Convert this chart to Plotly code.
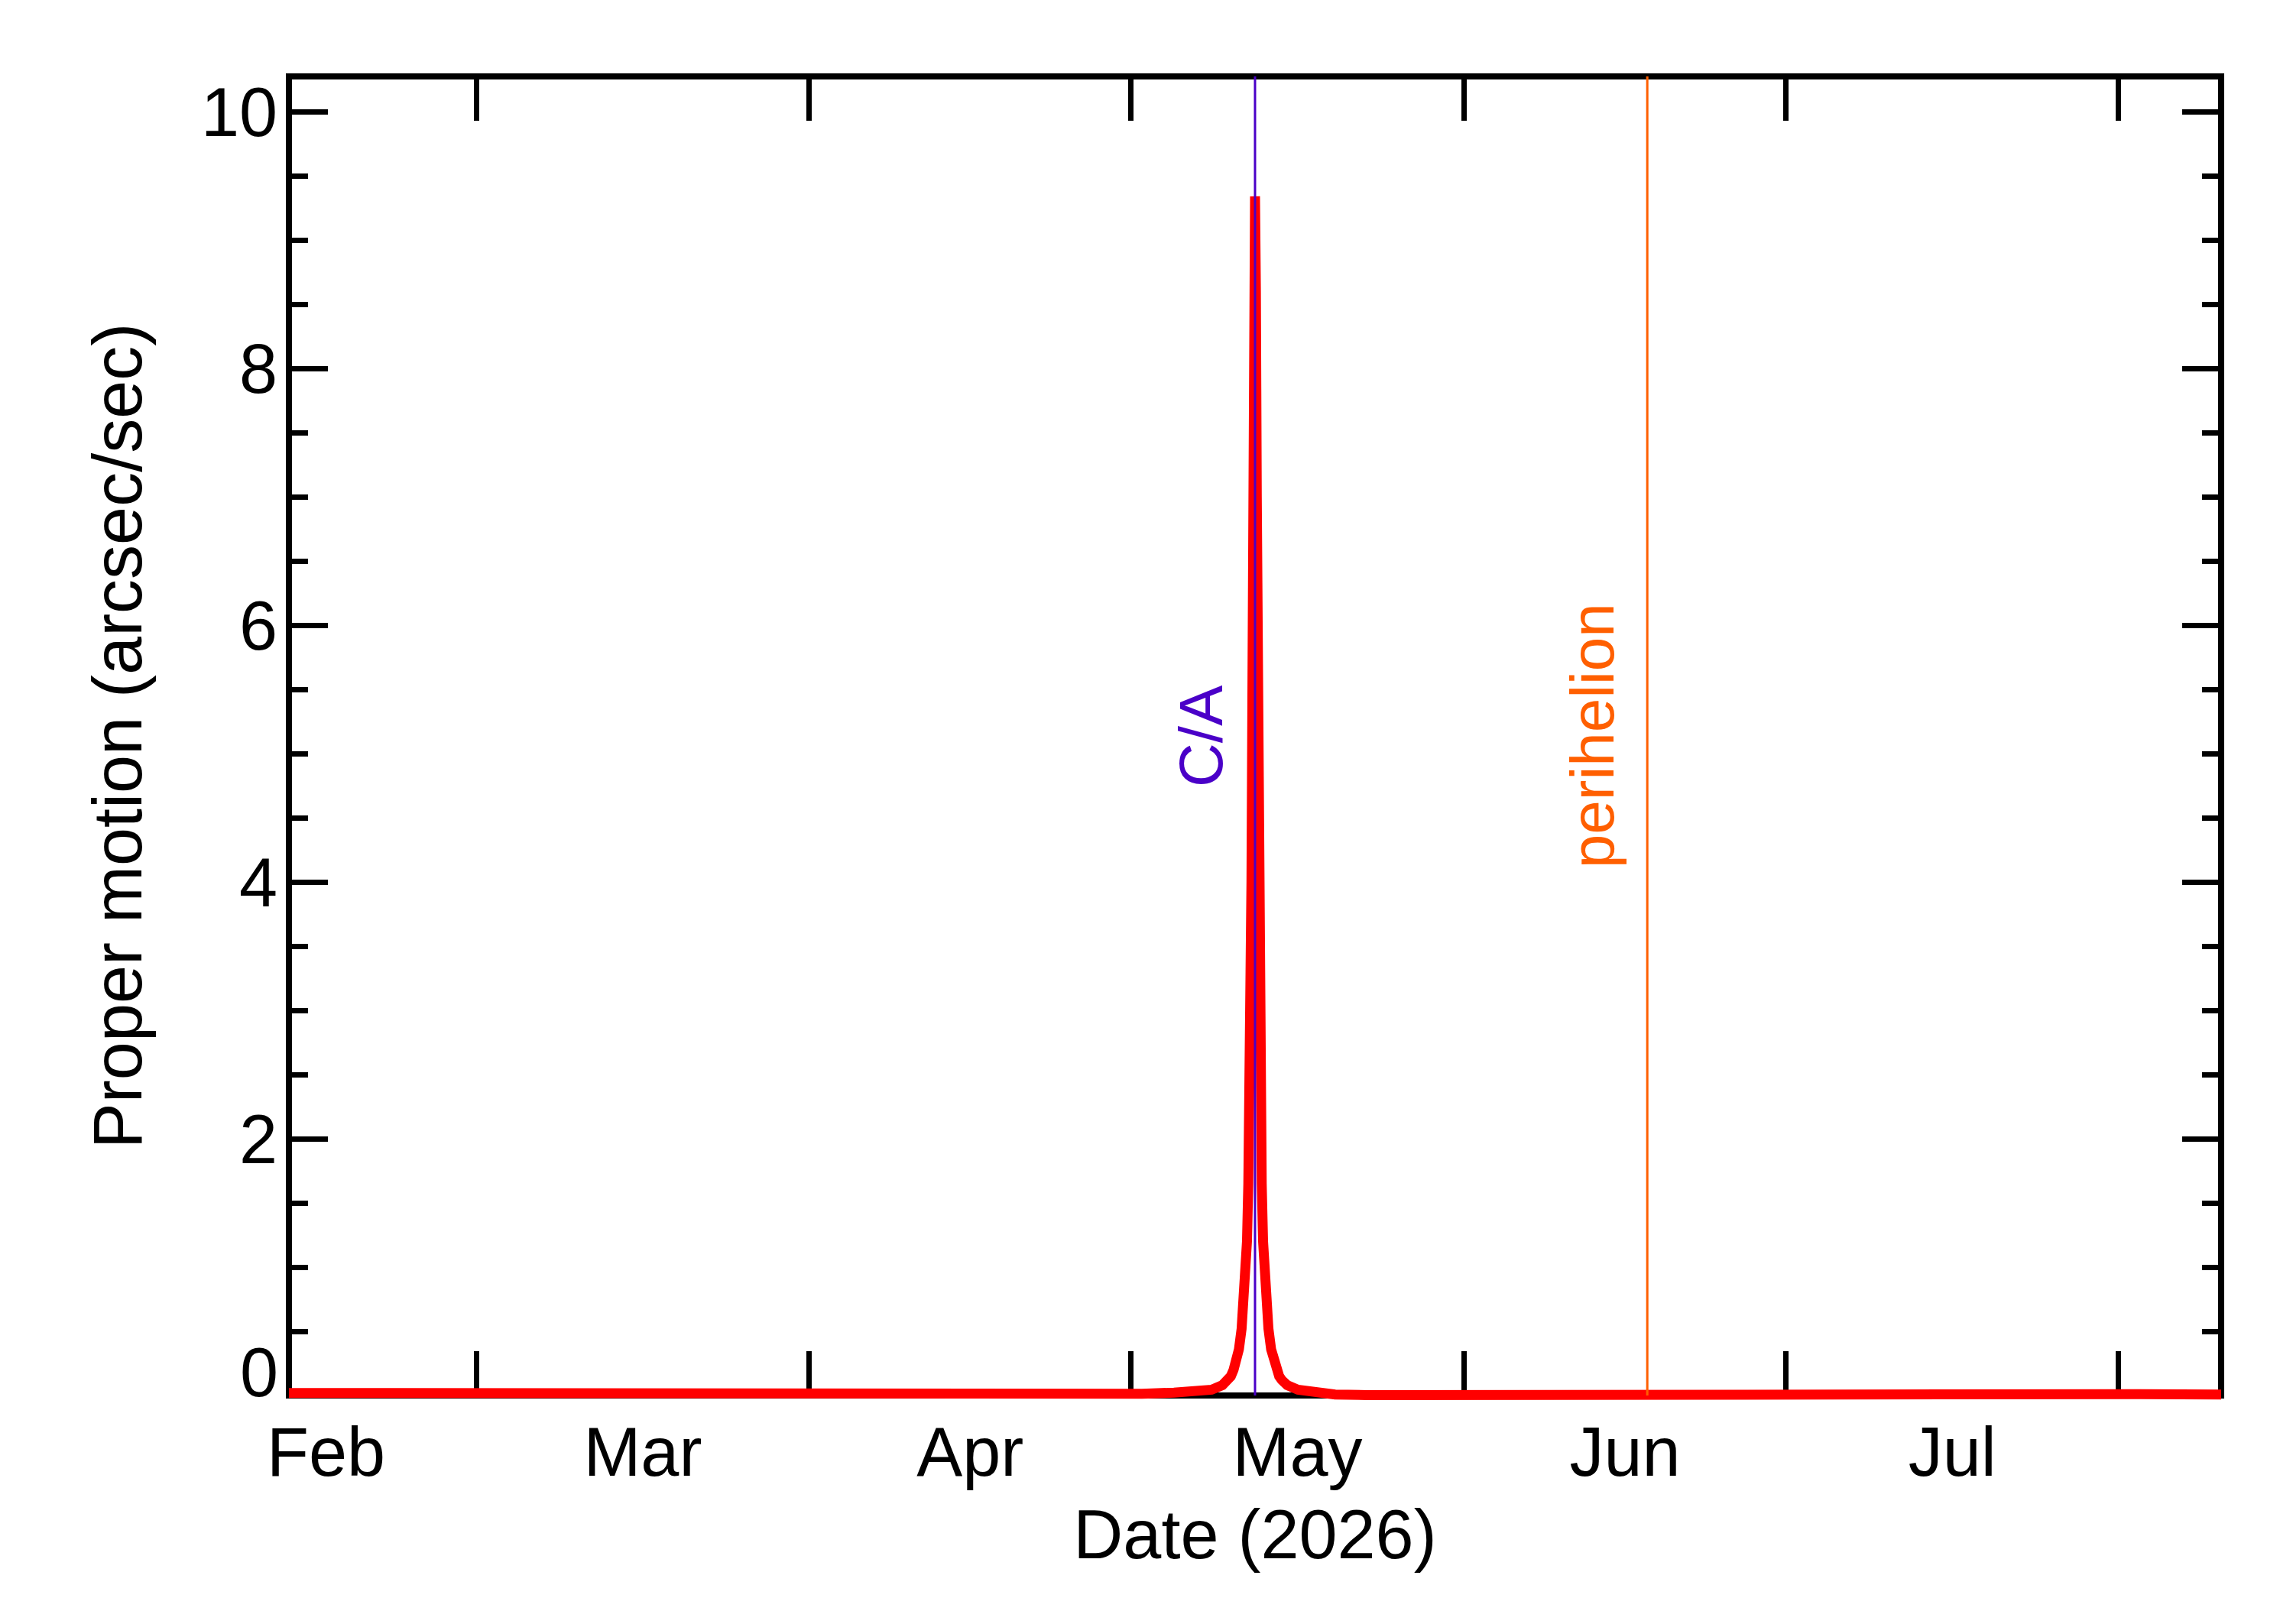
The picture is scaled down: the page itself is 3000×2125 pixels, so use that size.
import pandas as pd
import plotly.graph_objects as go

# proper motion (arcsec/sec)
dates = [
    "2026-02-11 13:00", "2026-02-18 00:00", "2026-02-25 00:00", "2026-03-04 00:00",
    "2026-03-12 00:00", "2026-03-20 00:00", "2026-03-28 00:00", "2026-04-06 00:00",
    "2026-04-15 00:00", "2026-04-22 00:00", "2026-04-28 00:00", "2026-05-02 00:00",
    "2026-05-05 00:00", "2026-05-07 12:00", "2026-05-08 12:00", "2026-05-09 12:00",
    "2026-05-10 01:00", "2026-05-10 07:00", "2026-05-10 13:00", "2026-05-10 19:00",
    "2026-05-11 01:00", "2026-05-11 07:00", "2026-05-11 13:00", "2026-05-11 16:00",
    "2026-05-11 19:00", "2026-05-11 22:00", "2026-05-12 01:00", "2026-05-12 03:00",
    "2026-05-12 05:00", "2026-05-12 07:00", "2026-05-12 09:00", "2026-05-12 11:00",
    "2026-05-12 12:00", "2026-05-12 13:00", "2026-05-12 14:00", "2026-05-12 15:00",
    "2026-05-12 17:00", "2026-05-12 19:00", "2026-05-12 21:00", "2026-05-12 23:00",
    "2026-05-13 01:00", "2026-05-13 04:00", "2026-05-13 07:00", "2026-05-13 10:00",
    "2026-05-13 13:00", "2026-05-13 19:00", "2026-05-14 01:00", "2026-05-14 07:00",
    "2026-05-14 13:00", "2026-05-14 19:00", "2026-05-15 01:00", "2026-05-15 13:00",
    "2026-05-16 13:00", "2026-05-18 00:00", "2026-05-20 00:00", "2026-05-23 00:00",
    "2026-05-27 00:00", "2026-06-02 00:00", "2026-06-09 00:00", "2026-06-16 00:00",
    "2026-06-24 00:00", "2026-07-03 00:00", "2026-07-12 00:00", "2026-07-19 00:00",
    "2026-07-26 00:00", "2026-08-03 00:00", "2026-08-10 13:00",
]
motion = [
    0.020, 0.019, 0.016, 0.013,
    0.011, 0.008, 0.005, 0.003,
    0.003, 0.005, 0.009, 0.014,
    0.022, 0.032, 0.045, 0.08,
    0.12, 0.15, 0.20, 0.26,
    0.36, 0.52, 0.77, 0.95,
    1.2, 1.65, 2.3, 3.1,
    4.0, 5.4, 7.0, 8.6,
    9.15, 9.34, 9.15, 8.6,
    7.0, 5.4, 4.0, 3.1,
    2.3, 1.65, 1.2, 0.95,
    0.77, 0.52, 0.36, 0.26,
    0.20, 0.15, 0.12, 0.08,
    0.045, 0.022, 0.008, 0.003,
    0.004, 0.007, 0.010, 0.013,
    0.017, 0.020, 0.020, 0.017,
    0.013, 0.010, 0.007,
]

ca_date = "2026-05-12 13:00"
peri_date = "2026-06-18 02:00"
t_start = "2026-02-11 13:00"
t_end = "2026-08-10 13:00"
y_max = 10.274

# page geometry (px)
W, H = 3000, 2125
XL, XR, YT, YB = 378, 2906, 100, 1826
LW = 8

T0, T1 = pd.Timestamp(t_start), pd.Timestamp(t_end)
spx = (T1 - T0) / (XR - XL)
ppu = (YB - YT) / y_max


def ts(t):
    return t.strftime("%Y-%m-%d %H:%M:%S.%f")


FONT = "Liberation Sans, Arial, Helvetica, sans-serif"
purple = "#4A00C8"
orange = "#FF5F00"

fig = go.Figure()

# curve and markers on a full-page overlay so the thick line is not clipped at the frame
fig.add_trace(go.Scatter(x=dates, y=motion, mode="lines", xaxis="x2", yaxis="y2",
                         line=dict(color="#FF0000", width=13), showlegend=False))
fig.add_trace(go.Scatter(x=[ca_date, ca_date], y=[0, y_max], mode="lines", xaxis="x2", yaxis="y2",
                         line=dict(color=purple, width=3), showlegend=False))
fig.add_trace(go.Scatter(x=[peri_date, peri_date], y=[0, y_max], mode="lines", xaxis="x2", yaxis="y2",
                         line=dict(color=orange, width=3), showlegend=False))

axis_common = dict(showline=True, linecolor="black", linewidth=LW, mirror="ticks",
                   ticks="inside", tickcolor="black", tickwidth=7,
                   showgrid=False, zeroline=False, automargin=False,
                   tickfont=dict(family=FONT, size=90, color="black"))

fig.update_layout(
    width=W, height=H,
    margin=dict(l=0, r=0, t=0, b=0, autoexpand=False),
    paper_bgcolor="white",
    plot_bgcolor="rgba(0,0,0,0)",
    showlegend=False,
    xaxis=dict(
        axis_common,
        type="date",
        domain=[(XL + LW / 2) / W, (XR - LW / 2) / W],
        range=[ts(T0 + spx * (LW / 2)), ts(T1 - spx * (LW / 2))],
        dtick="M1", tickformat="%b", ticklabelmode="period",
        ticklen=54, ticklabelstandoff=-7,
        title=dict(text="Date (2026)", font=dict(family=FONT, size=90, color="black"), standoff=30),
        anchor="y",
    ),
    yaxis=dict(
        axis_common,
        domain=[1 - (YB - LW / 2) / H, 1 - (YT + LW / 2) / H],
        range=[(LW / 2) / ppu, y_max - (LW / 2) / ppu],
        dtick=2, ticklen=47, ticklabelstandoff=-7,
        minor=dict(dtick=0.5, ticks="inside", ticklen=21, tickwidth=7, tickcolor="black"),
        title=dict(text="Proper motion (arcsec/sec)", font=dict(family=FONT, size=90, color="black"),
                   standoff=50),
        anchor="x",
    ),
    xaxis2=dict(type="date", domain=[0, 1], anchor="y2", visible=False,
                range=[ts(T0 - spx * XL), ts(T1 + spx * (W - XR))]),
    yaxis2=dict(domain=[0, 1], anchor="x2", visible=False,
                range=[-(H - YB) / ppu, y_max + YT / ppu]),
    annotations=[
        # the "0" label sits on the bottom frame line in the reference
        dict(x=0, y=0, xref="x domain", yref="y domain", text="0", showarrow=False,
             xanchor="right", yanchor="middle", xshift=-16, yshift=26,
             font=dict(family=FONT, size=90, color="black")),
        dict(x=ca_date, y=0.5, xref="x", yref="y domain", text="C/A", textangle=-90,
             showarrow=False, xanchor="center", yanchor="middle", xshift=-71,
             font=dict(family=FONT, size=80, color=purple)),
        dict(x=peri_date, y=0.5, xref="x", yref="y domain", text="perihelion", textangle=-90,
             showarrow=False, xanchor="center", yanchor="middle", xshift=-72,
             font=dict(family=FONT, size=80, color=orange)),
    ],
)

# drop the default 8px body margin so the figure sits at the page origin
fig.write_html("out.html", config={"displayModeBar": False},
               post_script="document.body.style.margin='0px';")
